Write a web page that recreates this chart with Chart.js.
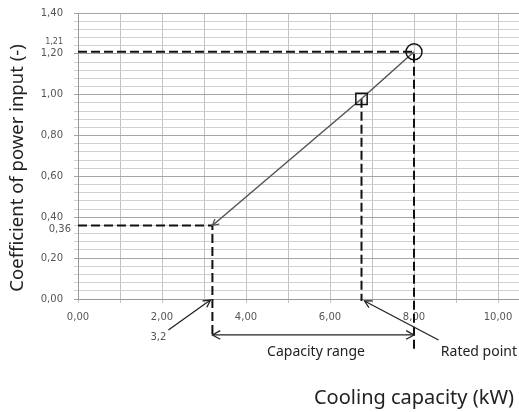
<!DOCTYPE html>
<html>
<head>
<meta charset="utf-8">
<script src="https://cdn.jsdelivr.net/npm/chart.js@4"></script>
<style>
  html, body { margin: 0; padding: 0; background: #fff; }
  #wrap { width: 519px; height: 412px; }
</style>
</head>
<body>
<div id="wrap"><canvas id="chart" width="519" height="412"></canvas></div>
<script>
// operating curve
const capacity = [3.2, 6.75, 8];
const coefficient = [0.36, 0.98, 1.21];
const minPoint = { x: 3.2, y: 0.36 };
const ratedPoint = { x: 6.75, y: 0.98 };
const maxPoint = { x: 8, y: 1.21 };
const xTickLabels = ['0,00', '2,00', '4,00', '6,00', '8,00', '10,00'];
const yTickLabels = ['0,00', '0,20', '0,40', '0,60', '0,80', '1,00', '1,20', '1,40'];

const fmt = v => v.toFixed(2).replace('.', ',');
const tickFont = { family: 'DejaVu Sans', size: 10 };

const curve = capacity.map((c, i) => ({ x: c, y: coefficient[i] }));

function guide(points) {
    return {
        data: points,
        showLine: true,
        borderColor: '#111',
        borderWidth: 2,
        borderDash: [9, 4],
        pointRadius: 0,
        clip: false,
        order: 2
    };
}

const extras = {
    id: 'extras',
    afterDraw(chart) {
        const ctx = chart.ctx;
        const xs = chart.scales.x, ys = chart.scales.y;
        const px = v => xs.getPixelForValue(v);
        const py = v => ys.getPixelForValue(v);

        function arrowHead(x, y, ang, len) {
            ctx.beginPath();
            ctx.moveTo(x + len * Math.cos(ang + 0.5), y + len * Math.sin(ang + 0.5));
            ctx.lineTo(x, y);
            ctx.lineTo(x + len * Math.cos(ang - 0.5), y + len * Math.sin(ang - 0.5));
            ctx.stroke();
        }
        function arrow(x1, y1, x2, y2) {
            ctx.beginPath();
            ctx.moveTo(x1, y1);
            ctx.lineTo(x2, y2);
            ctx.stroke();
            arrowHead(x2, y2, Math.atan2(y1 - y2, x1 - x2), 8);
        }

        ctx.save();
        ctx.strokeStyle = '#222';
        ctx.lineWidth = 1.3;

        // capacity range double arrow
        const ry = py(-0.176);
        ctx.beginPath();
        ctx.moveTo(px(minPoint.x), ry);
        ctx.lineTo(px(maxPoint.x), ry);
        ctx.stroke();
        arrowHead(px(minPoint.x), ry, 0, 9);
        arrowHead(px(maxPoint.x), ry, Math.PI, 9);

        // pointer arrows
        arrow(px(minPoint.x) - 44, py(0) + 31, px(minPoint.x) - 2, py(0) + 1);
        arrow(px(ratedPoint.x) + 77, py(0) + 41, px(ratedPoint.x) + 3, py(0) + 2);

        // small arrowhead where the curve starts
        ctx.strokeStyle = '#555';
        const a = Math.atan2(py(ratedPoint.y) - py(minPoint.y), px(ratedPoint.x) - px(minPoint.x));
        arrowHead(px(minPoint.x), py(minPoint.y), a, 7);

        // extra value labels
        ctx.fillStyle = '#555';
        ctx.textAlign = 'right';
        ctx.textBaseline = 'middle';
        ctx.font = '8px "DejaVu Sans"';
        ctx.fillText(fmt(maxPoint.y), 63, py(maxPoint.y) - 10);
        ctx.font = '10px "DejaVu Sans"';
        ctx.fillText(fmt(minPoint.y), 71, py(minPoint.y) + 4);
        ctx.textAlign = 'center';
        ctx.fillText(String(minPoint.x).replace('.', ','), px(minPoint.x) - 54, py(0) + 38);

        // annotation text
        ctx.fillStyle = '#222';
        ctx.font = '14px "Noto Sans"';
        ctx.fillText('Capacity range', 316, 352);
        ctx.textAlign = 'right';
        ctx.fillText('Rated point', 517, 352);

        // axis titles
        ctx.font = '20px "Noto Sans"';
        ctx.textAlign = 'right';
        ctx.fillText('Cooling capacity (kW)', 514, 398);
        ctx.save();
        ctx.translate(18, 168);
        ctx.rotate(-Math.PI / 2);
        ctx.textAlign = 'center';
        ctx.font = '18.5px "Noto Sans"';
        ctx.fillText('Coefficient of power input (-)', 0, 0);
        ctx.restore();
        ctx.restore();
    }
};

new Chart(document.getElementById('chart').getContext('2d'), {
    type: 'scatter',
    data: {
        datasets: [
            {
                data: curve,
                showLine: true,
                borderColor: '#555',
                borderWidth: 1.5,
                pointStyle: ['triangle', 'rect', 'circle'],
                pointRadius: [0, 8, 8],
                pointBackgroundColor: 'rgba(0,0,0,0)',
                pointBorderColor: '#111',
                pointBorderWidth: 1.5,
                clip: false,
                order: 1
            },
            guide([{ x: 0, y: maxPoint.y }, { x: maxPoint.x, y: maxPoint.y }, { x: maxPoint.x, y: -0.25 }]),
            guide([{ x: 0, y: minPoint.y }, { x: minPoint.x, y: minPoint.y }, { x: minPoint.x, y: -0.19 }]),
            guide([{ x: ratedPoint.x, y: ratedPoint.y }, { x: ratedPoint.x, y: -0.01 }])
        ]
    },
    options: {
        responsive: false,
        animation: false,
        layout: { autoPadding: false, padding: { top: 13, left: 0, right: 0, bottom: 0 } },
        plugins: { legend: { display: false }, tooltip: { enabled: false } },
        scales: {
            x: {
                type: 'linear',
                min: 0,
                max: 10.5,
                afterFit: s => { s.height = 113; s.paddingLeft = 0; s.paddingRight = 0; },
                border: { color: '#999' },
                grid: { color: '#c2c2c2', drawTicks: true, tickLength: 4 },
                ticks: {
                    stepSize: 1,
                    includeBounds: false,
                    autoSkip: false,
                    maxRotation: 0,
                    color: '#555',
                    font: tickFont,
                    padding: 8,
                    callback: v => (v % 2 === 0 ? xTickLabels[v / 2] : '')
                }
            },
            y: {
                type: 'linear',
                min: 0,
                max: 1.4,
                afterFit: s => { s.width = 78; s.paddingTop = 0; s.paddingBottom = 0; },
                border: { color: '#999' },
                grid: {
                    tickLength: 4,
                    color: ctx => {
                        const r = ctx.tick.value / 0.2;
                        return Math.abs(r - Math.round(r)) < 1e-6 ? '#a5a5a5' : '#d0d0d0';
                    }
                },
                ticks: {
                    stepSize: 0.04,
                    maxTicksLimit: 60,
                    autoSkip: false,
                    color: '#555',
                    font: tickFont,
                    padding: 11,
                    callback: v => {
                        const r = v / 0.2;
                        return Math.abs(r - Math.round(r)) < 1e-6 ? yTickLabels[Math.round(r)] : '';
                    }
                }
            }
        }
    },
    plugins: [extras]
});
</script>
</body>
</html>
